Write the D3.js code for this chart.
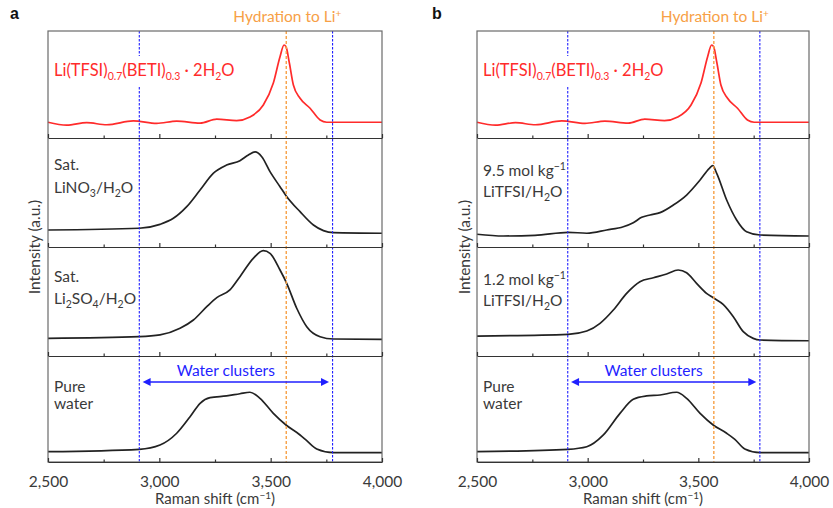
<!DOCTYPE html>
<html>
<head>
<meta charset="utf-8">
<script src="https://cdn.jsdelivr.net/npm/d3@7/dist/d3.min.js"></script>
<style>
body{margin:0;background:#fff;}
svg{display:block;font-family:"Lato","Open Sans",sans-serif;}
</style>
</head>
<body>
<svg id="chart" width="833" height="508"></svg>
<script>
// ---------------- DATA ----------------
const xDomain = [2500, 4000];
const majorTicks = [2500, 3000, 3500, 4000];
const minorTicks = [2750, 3250, 3750];
const tickLabels = ["2,500", "3,000", "3,500", "4,000"];
const hydrationLine = 3570;
const clusterLines = [2910, 3778];

// Li(TFSI)0.7(BETI)0.3·2H2O (red, top panels)
const hydrateX = [2500,2584,2674,2764,2883,2988,3078,3183,3258,3347,3407,3467,3512,3542,3560,3569,3584,3602,3632,3677,3722,3752,3856,4000];
const hydrateY = [14.7,12.0,14.3,12.4,16.0,13.7,15.8,13.9,17.6,16.2,19.6,30.8,51.4,76.0,86.9,85.3,70.1,49.5,37.1,27.8,16.8,14.7,14.7,14.7];

// Sat. LiNO3/H2O
const lino3X = [2500,2910,3003,3063,3123,3183,3242,3302,3362,3400,3430,3460,3497,3542,3569,3632,3692,3737,3782,4000];
const lino3Y = [15.6,17.2,20.8,26.3,37.0,52.3,67.6,75.2,79.2,84.4,87.2,82.8,69.1,55.3,47.1,32.4,20.2,15.0,13.1,12.6];

// Sat. Li2SO4/H2O
const li2so4X = [2500,2910,3003,3093,3153,3213,3258,3317,3362,3422,3467,3497,3542,3572,3617,3662,3722,3782,4000];
const li2so4Y = [16.2,17.7,19.3,25.4,33.0,45.2,53.5,60.6,72.8,89.6,96.6,94.2,78.9,66.7,43.8,26.9,17.7,15.6,15.3];

// Pure water (panel a)
const waterAX = [2500,2910,3003,3078,3138,3183,3228,3302,3362,3407,3452,3512,3569,3632,3662,3707,3782,4000];
const waterAY = [9.7,12.0,16.0,27.1,42.7,55.4,60.7,62.3,64.4,65.8,60.1,45.9,34.9,25.5,20.1,12.3,8.8,8.8];

// 9.5 mol/kg LiTFSI/H2O
const tfsi95X = [2500,2619,2762,2912,2996,3086,3161,3206,3244,3282,3327,3387,3447,3508,3550,3565,3583,3628,3673,3718,3779,4000];
const tfsi95Y = [11.7,10.1,10.7,13.5,12.6,15.6,18.6,22.3,27.2,29.4,31.5,38.5,47.7,61.5,72.2,74.6,67.6,43.1,24.8,14.0,11.0,10.1];

// 1.2 mol/kg LiTFSI/H2O
const tfsi12X = [2500,2912,2996,3056,3116,3176,3236,3297,3357,3409,3447,3492,3537,3567,3612,3658,3703,3748,3779,4000];
const tfsi12Y = [18.3,19.9,22.9,30.0,42.2,57.5,68.2,71.8,75.2,78.9,76.4,66.7,57.5,53.5,47.4,36.1,22.3,16.2,14.7,14.0];

// Pure water (panel b)
const waterBX = [2500,2912,2996,3071,3146,3206,3266,3327,3402,3447,3508,3567,3628,3665,3710,3779,4000];
const waterBY = [9.7,12.0,14.4,25.5,45.9,59.2,62.3,63.2,65.8,60.1,45.9,34.9,27.1,21.4,12.3,8.8,8.8];

// ---------------- LAYOUT ----------------
const svg = d3.select("#chart");
const panelEdges = [31, 138, 247, 356, 462];
const TXT = "#3a3a3a";
const RED = "#ff2b2b";
const BLUE = "#1f1fff";
const ORANGE = "#f7a046";

function zip(xs, ys){ return xs.map((x,i)=>({x:x, y:ys[i]})); }

const panels = [
  { id:"a", left:48, right:382, labelX:10, yLabelX:35,
    series:[
      {x:hydrateX, y:hydrateY, color:RED},
      {x:lino3X, y:lino3Y, color:"#222"},
      {x:li2so4X, y:li2so4Y, color:"#222"},
      {x:waterAX, y:waterAY, color:"#222"}
    ],
    labels:[
      null,
      [{t:[["Sat.",0]]},{t:[["LiNO",0],["3",1],["/H",0],["2",1],["O",0]]}],
      [{t:[["Sat.",0]]},{t:[["Li",0],["2",1],["SO",0],["4",1],["/H",0],["2",1],["O",0]]}],
      [{t:[["Pure",0]]},{t:[["water",0]]}]
    ],
    labelBase:[null,[170,193],[282,304],[392,409]]
  },
  { id:"b", left:477, right:809, labelX:432, yLabelX:465,
    series:[
      {x:hydrateX, y:hydrateY, color:RED},
      {x:tfsi95X, y:tfsi95Y, color:"#222"},
      {x:tfsi12X, y:tfsi12Y, color:"#222"},
      {x:waterBX, y:waterBY, color:"#222"}
    ],
    labels:[
      null,
      [{t:[["9.5 mol kg",0],["\u22121",2]]},{t:[["LiTFSI/H",0],["2",1],["O",0]]}],
      [{t:[["1.2 mol kg",0],["\u22121",2]]},{t:[["LiTFSI/H",0],["2",1],["O",0]]}],
      [{t:[["Pure",0]]},{t:[["water",0]]}]
    ],
    labelBase:[null,[176,197],[285,306],[392,409]]
  }
];

function addRich(sel, parts){
  // parts: [text, mode] mode 0 normal, 1 subscript, 2 superscript
  let prev = 0;
  parts.forEach(([s, m])=>{
    const off = m===1 ? 4 : (m===2 ? -6 : 0);
    sel.append("tspan").attr("dy", off - prev)
      .attr("font-size", m===0 ? null : "10.5px").text(s);
    prev = off;
  });
}

panels.forEach(p=>{
  const x = d3.scaleLinear().domain(xDomain).range([p.left, p.right]);
  const g = svg.append("g");

  // panel letter
  g.append("text").attr("x", p.labelX).attr("y", 19)
    .attr("font-weight", "bold").attr("font-size", "16px").attr("fill", "#111")
    .attr("font-family", "Arial, 'Liberation Sans', sans-serif").text(p.id);

  // Hydration text
  const ht = g.append("text").attr("x", x(hydrationLine) + 1).attr("y", 22)
    .attr("text-anchor", "middle").attr("font-size", "15.5px").attr("fill", ORANGE);
  ht.append("tspan").text("Hydration to Li");
  ht.append("tspan").attr("dy", -5).attr("font-size", "10px").text("+");

  // curves
  for (let k=0;k<4;k++){
    const y = d3.scaleLinear().domain([0,100]).range([panelEdges[k+1], panelEdges[k]]);
    const s = p.series[k];
    const line = d3.line().x(d=>x(d.x)).y(d=>y(d.y)).curve(d3.curveMonotoneX);
    g.append("path").datum(zip(s.x, s.y)).attr("d", line)
      .attr("fill", "none").attr("stroke", s.color).attr("stroke-width", 1.7)
      .attr("stroke-linejoin", "round");
  }

  // vertical reference lines
  clusterLines.forEach(v=>{
    g.append("line").attr("x1", x(v)).attr("x2", x(v))
      .attr("y1", panelEdges[0]).attr("y2", panelEdges[4])
      .attr("stroke", BLUE).attr("stroke-width", 1.1).attr("stroke-dasharray", "2.5,1.5");
  });
  g.append("line").attr("x1", x(hydrationLine)).attr("x2", x(hydrationLine))
    .attr("y1", panelEdges[0]).attr("y2", panelEdges[4])
    .attr("stroke", ORANGE).attr("stroke-width", 1.4).attr("stroke-dasharray", "3,2");

  // top label with white background
  const topLbl = g.append("text").attr("x", p.left + 6).attr("y", 76)
    .attr("font-size", "16.5px").attr("fill", RED);
  const rich = [["Li(TFSI)",0],["0.7",1],["(BETI)",0],["0.3",1],[" \u00B7 2H",0],["2",1],["O",0]];
  addRich(topLbl, rich);
  const bb = topLbl.node().getBBox();
  g.insert("rect", "text:last-of-type")
    .attr("x", bb.x - 2).attr("y", bb.y - 4).attr("width", bb.width + 4).attr("height", bb.height + 8)
    .attr("fill", "#fff");
  topLbl.raise();

  // other labels
  for (let k=1;k<4;k++){
    p.labels[k].forEach((ln, j)=>{
      const t = g.append("text").attr("x", p.left + 6).attr("y", p.labelBase[k][j])
        .attr("font-size", "15.5px").attr("fill", TXT);
      addRich(t, ln.t);
    });
  }

  // water clusters arrow
  const ay = 382;
  const ax1 = x(2925), ax2 = x(3762);
  g.append("line").attr("x1", ax1 + 5).attr("x2", ax2 - 5).attr("y1", ay).attr("y2", ay)
    .attr("stroke", BLUE).attr("stroke-width", 1.3);
  g.append("path").attr("d", `M${ax1},${ay} l8,-4 l0,8 z`).attr("fill", BLUE);
  g.append("path").attr("d", `M${ax2},${ay} l-8,-4 l0,8 z`).attr("fill", BLUE);
  g.append("text").attr("x", (ax1+ax2)/2 - 10).attr("y", 376).attr("text-anchor", "middle")
    .attr("font-size", "15.5px").attr("fill", BLUE).text("Water clusters");

  // frame
  g.append("rect").attr("x", p.left).attr("y", panelEdges[0])
    .attr("width", p.right - p.left).attr("height", panelEdges[4] - panelEdges[0])
    .attr("fill", "none").attr("stroke", "#6a6a6a").attr("stroke-width", 1.2);

  // separators / axes with inward ticks
  for (let k=1;k<=4;k++){
    const yy = panelEdges[k];
    const major = d3.axisBottom(x).tickValues(majorTicks).tickSizeInner(-4).tickSizeOuter(0)
      .tickFormat((d,i)=> k===4 ? tickLabels[i] : "");
    const ag = g.append("g").attr("transform", `translate(0,${yy})`).call(major);
    ag.select(".domain").attr("stroke", "#333").attr("stroke-width", 1.2);
    ag.selectAll(".tick line").attr("stroke", "#333").attr("stroke-width", 1.2);
    ag.selectAll(".tick text").attr("font-size", "15.5px").attr("fill", TXT)
      .attr("font-family", "Lato, sans-serif").attr("dy", "1.4em");
    const minor = d3.axisBottom(x).tickValues(minorTicks).tickSizeInner(-2.5).tickSizeOuter(0).tickFormat("");
    const mg = g.append("g").attr("transform", `translate(0,${yy})`).call(minor);
    mg.select(".domain").remove();
    mg.selectAll(".tick line").attr("stroke", "#333").attr("stroke-width", 1.2);
  }

  // axis titles
  const xt = g.append("text").attr("x", (p.left + p.right)/2).attr("y", 504)
    .attr("text-anchor", "middle").attr("font-size", "15px").attr("fill", TXT);
  xt.append("tspan").text("Raman shift (cm");
  xt.append("tspan").attr("dy", -5).attr("font-size", "10px").text("\u22121");
  xt.append("tspan").attr("dy", 5).text(")");

  g.append("text").attr("transform", `translate(${p.yLabelX + 5},247) rotate(-90)`)
    .attr("text-anchor", "middle").attr("font-size", "15.5px").attr("fill", TXT)
    .text("Intensity (a.u.)");
});
</script>
</body>
</html>
